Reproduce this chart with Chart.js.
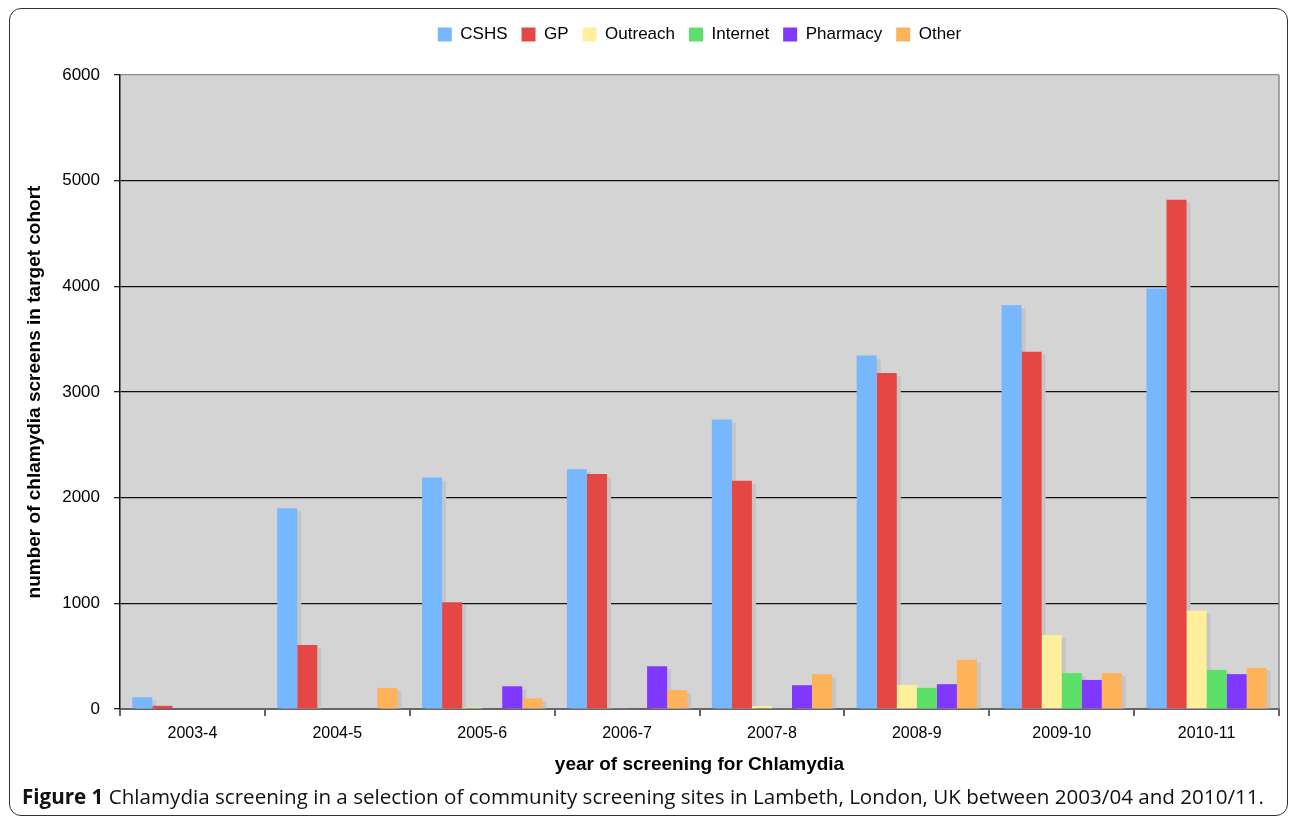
<!DOCTYPE html>
<html>
<head>
<meta charset="utf-8">
<script src="https://cdn.jsdelivr.net/npm/chart.js@4/dist/chart.umd.min.js"></script>
<style>
  html, body { margin: 0; padding: 0; background: #fff; }
  #frame {
    position: absolute; left: 9px; top: 8px; width: 1279px; height: 808px;
    border: 1.5px solid #333; border-radius: 12px; box-sizing: border-box;
  }
  #wrap { position: absolute; left: 0; top: 0; width: 1290px; height: 790px; }
  #caption {
    position: absolute; left: 22px; top: 782px; line-height: 28px; white-space: nowrap;
    font-family: "Open Sans", sans-serif; font-size: 20.6px; color: #111;
  }
  #caption b { font-weight: 700; }
</style>
</head>
<body>
<div id="frame"></div>
<div id="wrap"><canvas id="c" width="1290" height="790"></canvas></div>
<div id="caption"><b>Figure 1</b> Chlamydia screening in a selection of community screening sites in Lambeth, London, UK between 2003/04 and 2010/11.</div>
<script>
// Screening years
const years = ['2003-4', '2004-5', '2005-6', '2006-7', '2007-8', '2008-9', '2009-10', '2010-11'];

// Number of chlamydia screens per site type
const cshs     = [110, 1900, 2190, 2270, 2740, 3345, 3820, 3980];
const gp       = [30, 605, 1010, 2225, 2160, 3180, 3380, 4820];
const outreach = [0, 0, 15, 5, 28, 227, 700, 930];
const internet = [0, 0, 0, 0, 8, 200, 340, 370];
const pharmacy = [0, 0, 215, 405, 225, 235, 275, 330];
const other    = [0, 200, 100, 180, 330, 465, 340, 390];

const seriesNames = ['CSHS', 'GP', 'Outreach', 'Internet', 'Pharmacy', 'Other'];
const seriesColors = ['#76b7fe', '#e44744', '#fef09a', '#5ce06a', '#7f38fe', '#feb25a'];
const seriesValues = [cshs, gp, outreach, internet, pharmacy, other];

const yTicks = [0, 1000, 2000, 3000, 4000, 5000, 6000];

const FONT = '"Liberation Sans", Arial, Helvetica, sans-serif';

// Grey plot background, drawn under the grid
const plotBackground = {
  id: 'plotBackground',
  beforeDraw(chart) {
    const { ctx, chartArea: a } = chart;
    ctx.save();
    ctx.fillStyle = '#d4d4d4';
    ctx.fillRect(a.left, a.top, a.right - a.left, a.bottom - a.top);
    ctx.restore();
  }
};

// Flat drop shadow offset to the lower right of each bar
const barShadows = {
  id: 'barShadows',
  beforeDatasetsDraw(chart) {
    const { ctx, chartArea: a } = chart;
    ctx.save();
    ctx.beginPath();
    ctx.rect(a.left, a.top, a.right - a.left, a.bottom - a.top);
    ctx.clip();
    ctx.fillStyle = '#c5c5c5';
    chart.data.datasets.forEach((ds, i) => {
      const meta = chart.getDatasetMeta(i);
      meta.data.forEach((bar, j) => {
        if (!(ds.data[j] > 0)) return;
        const p = bar.getProps(['x', 'y', 'base', 'width'], true);
        const h = p.base - (p.y + 3);
        if (h > 0) ctx.fillRect(p.x - p.width / 2 + 4, p.y + 3, p.width, h);
      });
    });
    ctx.restore();
  }
};

// Right-hand edge of the plot frame
const plotFrame = {
  id: 'plotFrame',
  afterDraw(chart) {
    const { ctx, chartArea: a } = chart;
    ctx.save();
    ctx.strokeStyle = '#8a8a8a';
    ctx.lineWidth = 1.5;
    ctx.beginPath();
    ctx.moveTo(a.right, a.top);
    ctx.lineTo(a.right, a.bottom);
    ctx.stroke();
    ctx.restore();
  }
};

// Reserve a fixed band for the legend above the plot
const legendBand = {
  id: 'legendBand',
  afterInit(chart) {
    const lg = chart.legend;
    if (!lg) return;
    const fit = lg.fit;
    lg.fit = function () { fit.call(this); this.height = 63; };
  }
};

new Chart(document.getElementById('c'), {
  type: 'bar',
  data: {
    labels: years,
    datasets: seriesNames.map((name, i) => ({
      label: name,
      data: seriesValues[i],
      backgroundColor: seriesColors[i],
      borderWidth: 0
    }))
  },
  options: {
    responsive: false,
    animation: false,
    events: [],
    layout: { padding: { top: 12, left: 0, right: 11, bottom: 0 } },
    datasets: { bar: { categoryPercentage: 0.83, barPercentage: 1.0 } },
    plugins: {
      legend: {
        position: 'top',
        fullSize: false,
        labels: {
          boxWidth: 14, boxHeight: 14, padding: 14, color: '#000',
          font: { family: FONT, size: 17 }
        }
      },
      tooltip: { enabled: false }
    },
    scales: {
      x: {
        grid: {
          offset: true, drawOnChartArea: false, drawTicks: true,
          tickLength: 7, tickColor: '#666', lineWidth: 2
        },
        border: { color: '#666', width: 2 },
        ticks: { color: '#000', font: { family: FONT, size: 16 }, padding: 8 },
        title: {
          display: true, text: 'year of screening for Chlamydia', color: '#000',
          font: { family: FONT, size: 19, weight: 'bold' }, padding: { top: 0, bottom: 14 }
        },
        afterFit(scale) { scale.height = 81; }
      },
      y: {
        min: 0, max: 6000,
        afterBuildTicks(scale) { scale.ticks = yTicks.map(v => ({ value: v })); },
        grid: {
          color: c => c.tick.value === 6000 ? '#8a8a8a' : (c.tick.value === 0 ? '#666' : '#111'),
          lineWidth: 1.3, tickLength: 6, tickColor: '#222'
        },
        border: { color: '#111', width: 1.5 },
        ticks: {
          color: '#000', font: { family: FONT, size: 17 }, padding: 14,
          callback: v => String(v)
        },
        title: {
          display: true, text: 'number of chlamydia screens in target cohort', color: '#000',
          font: { family: FONT, size: 19, weight: 'bold' }, padding: { top: 23, bottom: 0 }
        },
        afterFit(scale) { scale.width = 120; }
      }
    }
  },
  plugins: [plotBackground, barShadows, plotFrame, legendBand]
});
</script>
</body>
</html>
